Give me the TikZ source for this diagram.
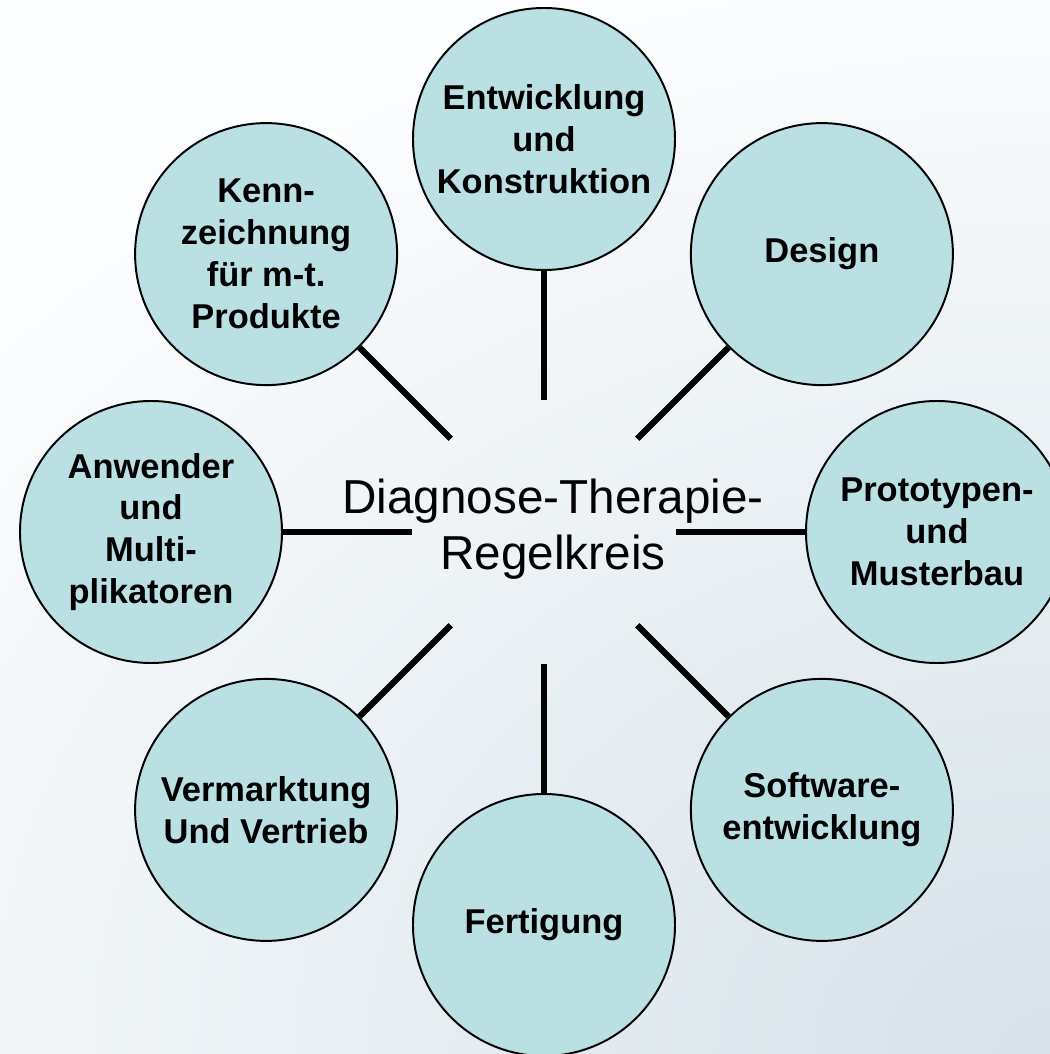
\documentclass[tikz,border=0pt]{standalone}
\usepackage{fontspec}
\setmainfont{Liberation Sans}
\usepackage{tikz}
\definecolor{topicfill}{HTML}{BAE0E3}
\definecolor{bgtop}{HTML}{FCFDFE}
\definecolor{bgbottom}{HTML}{D6E2E9}
\tikzset{
	topicstyle/.style={circle,draw=black,line width=1.4pt,fill=topicfill,minimum size=6.55cm,inner sep=-1.5cm,align=center,font=\fontsize{24.5}{29.8}\selectfont\bfseries},
	hubstyle/.style={rectangle,align=center,font=\fontsize{33.9}{39.7}\selectfont},
	linkstyle/.style={line width=4.3pt,shorten <=3.3cm}
}

\begin{document}
\begin{tikzpicture}
		\clip (-13.6,-13.05) rectangle (12.65,13.3);
		\shade[inner color=bgbottom,outer color=bgtop] (-22.35,-40.55) rectangle (47.65,14.45);
		\coordinate (hub) at (0,0);
		\node[hubstyle] (title) at (0.225,0.07) {Diagnose-Therapie-\\Regelkreis};
		\node[topicstyle] (t1) at (90:9.825) {Entwicklung\\und\\Konstruktion};
		\node[topicstyle] (t2) at (45:9.825) {Design};
		\node[topicstyle] (t3) at (0:9.825) {Prototypen-\\und\\Musterbau};
		\node[topicstyle] (t4) at (-45:9.825) {Software-\\entwicklung};
		\node[topicstyle] (t5) at (-90:9.825) {Fertigung};
		\node[topicstyle] (t6) at (-135:9.825) {Vermarktung\\Und Vertrieb};
		\node[topicstyle] (t7) at (180:9.825) {Anwender\\und\\Multi-\\plikatoren};
		\node[topicstyle] (t8) at (135:9.825) {Kenn-\\zeichnung\\für m-t.\\Produkte};
		\draw[linkstyle] (hub)--(t1);
		\draw[linkstyle] (hub)--(t2);
		\draw[linkstyle] (hub)--(t3);
		\draw[linkstyle] (hub)--(t4);
		\draw[linkstyle] (hub)--(t5);
		\draw[linkstyle] (hub)--(t6);
		\draw[linkstyle] (hub)--(t7);
		\draw[linkstyle] (hub)--(t8);
\end{tikzpicture}
\end{document}
